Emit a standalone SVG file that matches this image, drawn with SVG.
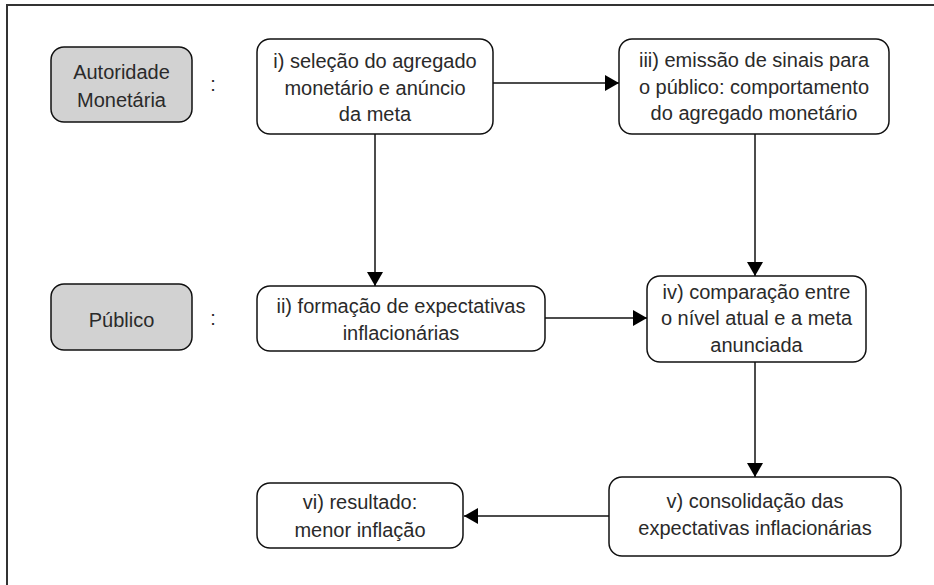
<svg xmlns="http://www.w3.org/2000/svg" width="934" height="585" viewBox="0 0 934 585">
<defs>
<style>
.frame{fill:none;stroke:#333;stroke-width:2}
.box{fill:#fff;stroke:#111;stroke-width:1.5}
.actor{fill:#d2d2d2;stroke:#111;stroke-width:1.5}
.t{font-family:"Liberation Sans",Arial,sans-serif;font-size:20px;fill:#2a2a2a;text-anchor:middle}
.edge{fill:none;stroke:#111;stroke-width:1.5}
</style>
<marker id="arr" viewBox="0 0 14 16" refX="14" refY="8" markerWidth="14" markerHeight="16" markerUnits="userSpaceOnUse" orient="auto">
<path d="M0,0 L14,8 L0,16 Z" fill="#000"/>
</marker>
</defs>
<rect width="934" height="585" fill="#fff"/>
<path class="frame" d="M7,590 V5 H940"/>
<g id="autoridade">
<rect class="actor" x="51" y="47" width="141" height="75" rx="13"/>
<text class="t" x="121.5" y="79">Autoridade</text>
<text class="t" x="121.5" y="107">Monetária</text>
<text class="t" x="213" y="91">:</text>
</g>
<g id="publico">
<rect class="actor" x="51" y="284" width="141" height="66" rx="13"/>
<text class="t" x="121.5" y="327">Público</text>
<text class="t" x="213" y="325">:</text>
</g>
<g id="n1">
<rect class="box" x="257" y="39" width="236" height="95" rx="13"/>
<text class="t" x="375" y="68">i) seleção do agregado</text>
<text class="t" x="375" y="95">monetário e anúncio</text>
<text class="t" x="375" y="121">da meta</text>
</g>
<g id="n3">
<rect class="box" x="619" y="39" width="270" height="95" rx="13"/>
<text class="t" x="754" y="67">iii) emissão de sinais para</text>
<text class="t" x="754" y="94">o público: comportamento</text>
<text class="t" x="754" y="120">do agregado monetário</text>
</g>
<g id="n2">
<rect class="box" x="257" y="286" width="288" height="65" rx="13"/>
<text class="t" x="401" y="313">ii) formação de expectativas</text>
<text class="t" x="401" y="340">inflacionárias</text>
</g>
<g id="n4">
<rect class="box" x="647" y="276" width="219" height="86" rx="13"/>
<text class="t" x="756.5" y="299">iv) comparação entre</text>
<text class="t" x="756.5" y="325">o nível atual e a meta</text>
<text class="t" x="756.5" y="352">anunciada</text>
</g>
<g id="n5">
<rect class="box" x="609" y="477" width="292" height="79" rx="13"/>
<text class="t" x="755" y="508">v) consolidação das</text>
<text class="t" x="755" y="535">expectativas inflacionárias</text>
</g>
<g id="n6">
<rect class="box" x="257" y="483" width="206" height="65" rx="13"/>
<text class="t" x="360" y="509">vi) resultado:</text>
<text class="t" x="360" y="537">menor inflação</text>
</g>
<g id="connectors">
<line class="edge" x1="493" y1="83" x2="619" y2="83" marker-end="url(#arr)"/>
<line class="edge" x1="375" y1="134" x2="375" y2="286" marker-end="url(#arr)"/>
<line class="edge" x1="755" y1="134" x2="755" y2="276" marker-end="url(#arr)"/>
<line class="edge" x1="545" y1="318" x2="647" y2="318" marker-end="url(#arr)"/>
<line class="edge" x1="755" y1="362" x2="755" y2="477" marker-end="url(#arr)"/>
<line class="edge" x1="609" y1="516" x2="464" y2="516" marker-end="url(#arr)"/>
</g>
</svg>
